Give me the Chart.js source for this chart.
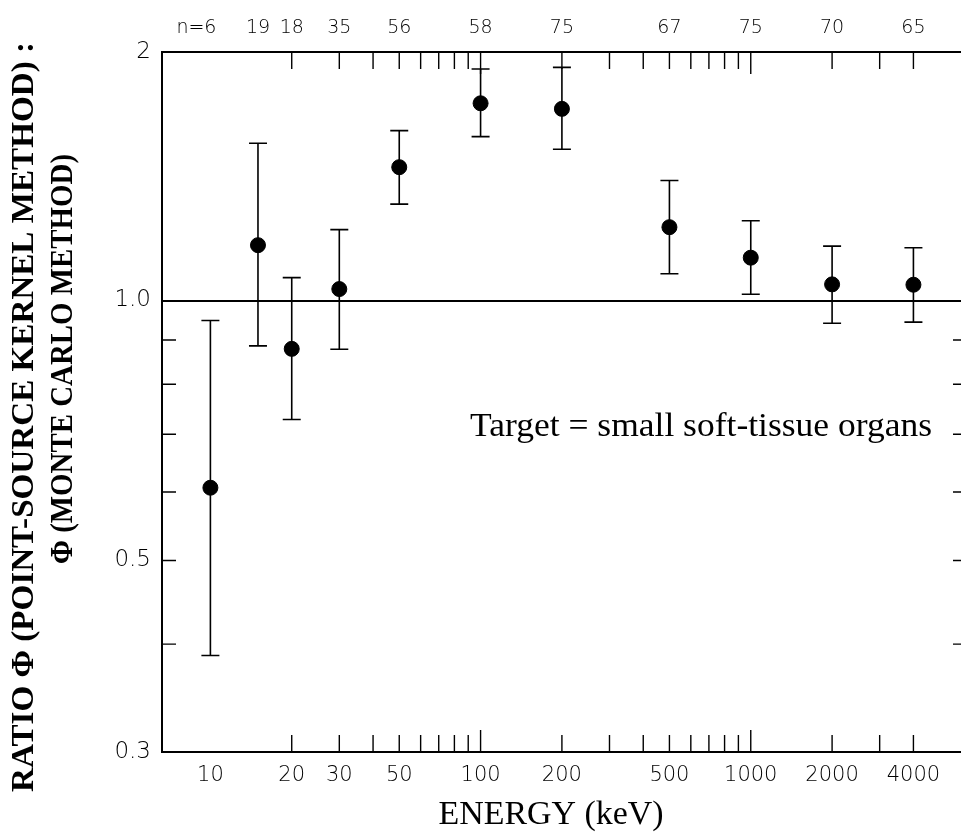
<!DOCTYPE html>
<html lang="en">
<head>
<meta charset="UTF-8">
<title>Ratio point-source kernel / Monte Carlo</title>
<style>
  html, body { margin: 0; padding: 0; background: #fff; }
  canvas { display: block; }
</style>
</head>
<body>
<canvas id="myChart" width="961" height="836"></canvas>
<script src="https://cdn.jsdelivr.net/npm/chart.js@4.4.1/dist/chart.umd.min.js"></script>
<script>
// data
const energies = [10, 15, 20, 30, 50, 100, 200, 500, 1000, 2000, 4000];
const ratios   = [0.607, 1.159, 0.879, 1.031, 1.427, 1.692, 1.667, 1.216, 1.121, 1.044, 1.043];
const errHigh  = [0.948, 1.521, 1.063, 1.208, 1.573, 1.854, 1.862, 1.377, 1.237, 1.156, 1.151];
const errLow   = [0.388, 0.886, 0.728, 0.878, 1.293, 1.548, 1.497, 1.074, 1.017, 0.941, 0.944];
const counts   = [6, 19, 18, 35, 56, 58, 75, 67, 75, 70, 65];

// axis ticks
const xTickLabels = [10, 20, 30, 50, 100, 200, 500, 1000, 2000, 4000];
const xMinorTicks = [20, 30, 40, 50, 60, 70, 80, 90, 100, 200, 300, 400, 500, 600, 700, 800, 900, 1000, 2000, 3000, 4000];
const yTickLabels = [0.3, 0.5, 1.0, 1.94];   // frame top is labelled "2"
const yMinorTicks = [0.4, 0.5, 0.6, 0.7, 0.8, 0.9];

const X_MIN = 6.62, X_MAX = 6000;
const Y_MIN = 0.3, Y_MAX = 1.94;

const SANS = 'DejaVu Sans';
const bottomFont = { family: SANS, size: 21, weight: '200' };
const topFont = { family: SANS, size: 19, weight: '200' };
const leftFont = { family: SANS, size: 23, weight: '200' };

// draws text stretched to a given length along the baseline
function fitText(ctx, txt, x, y, len, font, rot, base) {
  ctx.save();
  ctx.font = font;
  const w = ctx.measureText(txt).width;
  ctx.translate(x, y);
  ctx.rotate(rot || 0);
  ctx.scale(len / w, 1);
  ctx.textAlign = 'center';
  ctx.textBaseline = base || 'middle';
  ctx.fillStyle = '#000';
  ctx.fillText(txt, 0, 0);
  ctx.restore();
}

const extras = {
  id: 'extras',
  beforeDatasetsDraw(chart) {
    const { ctx, scales: { x, y } } = chart;
    ctx.save();
    ctx.strokeStyle = '#000';
    ctx.lineWidth = 1.6;
    energies.forEach((e, i) => {
      const px = x.getPixelForValue(e);
      const top = y.getPixelForValue(errHigh[i]);
      const bot = y.getPixelForValue(errLow[i]);
      ctx.beginPath();
      ctx.moveTo(px, top); ctx.lineTo(px, bot);
      ctx.moveTo(px - 9, top); ctx.lineTo(px + 9, top);
      ctx.moveTo(px - 9, bot); ctx.lineTo(px + 9, bot);
      ctx.stroke();
    });
    ctx.restore();
  },
  afterDraw(chart) {
    const { ctx, chartArea: a, scales: { x, y } } = chart;
    ctx.save();
    ctx.strokeStyle = '#000';
    ctx.lineWidth = 1.4;
    ctx.beginPath();
    xMinorTicks.forEach(v => {
      const px = x.getPixelForValue(v);
      const len = (v === 100 || v === 1000) ? 22 : 17;
      ctx.moveTo(px, a.bottom); ctx.lineTo(px, a.bottom - len);
      ctx.moveTo(px, a.top); ctx.lineTo(px, a.top + len);
    });
    yMinorTicks.forEach(v => {
      const py = y.getPixelForValue(v);
      ctx.moveTo(a.left, py); ctx.lineTo(a.left + 14, py);
      ctx.moveTo(a.right, py); ctx.lineTo(a.right - 8, py);
    });
    ctx.stroke();

    // "n=" prefix before the first count, on the same line as the top labels
    const x2 = chart.scales.x2;
    const item = x2.getLabelItems()[0];
    ctx.font = topFont.weight + ' ' + topFont.size + 'px "' + SANS + '"';
    ctx.fillStyle = '#000';
    ctx.textAlign = 'right';
    ctx.textBaseline = item.options.textBaseline;
    const w6 = ctx.measureText(String(counts[0])).width;
    ctx.fillText('n=', x2.getPixelForValue(energies[0]) - w6 / 2,
      item.options.translation[1] + (item.textOffset || 0));
    ctx.restore();

    // titles and annotation
    fitText(ctx, 'RATIO \u03A6 (POINT-SOURCE KERNEL METHOD) :', 25, 417, 750, 'bold 32px "Liberation Serif"', -Math.PI / 2);
    fitText(ctx, '\u03A6 (MONTE CARLO METHOD)', 64, 359, 410, 'bold 31px "Liberation Serif"', -Math.PI / 2);
    fitText(ctx, 'ENERGY (keV)', 551, 815, 225, '34px "Liberation Serif"', 0);
    fitText(ctx, 'Target = small soft-tissue organs', 701, 436, 462, '34px "Liberation Serif"', 0, 'alphabetic');
  }
};

const ctx = document.getElementById('myChart');

const chart = new Chart(ctx, {
  type: 'scatter',
  data: {
    datasets: [{
      data: energies.map((e, i) => ({ x: e, y: ratios[i] })),
      backgroundColor: '#000',
      borderColor: '#000',
      pointRadius: 7.5,
      pointHoverRadius: 7.5
    }]
  },
  options: {
    responsive: false,
    animation: false,
    layout: { padding: 0, autoPadding: false },
    plugins: {
      legend: { display: false },
      tooltip: { enabled: false }
    },
    scales: {
      x: {
        type: 'logarithmic',
        position: 'bottom',
        min: X_MIN, max: X_MAX,
        afterBuildTicks: axis => { axis.ticks = xTickLabels.map(v => ({ value: v })); },
        afterFit: axis => { axis.height = 84; },
        ticks: {
          callback: v => String(v),
          font: bottomFont, color: '#000',
          padding: 3, autoSkip: false, maxRotation: 0
        },
        grid: { display: false },
        border: { display: true, color: '#000', width: 2 }
      },
      x2: {
        type: 'logarithmic',
        position: 'top',
        min: X_MIN, max: X_MAX,
        afterBuildTicks: axis => { axis.ticks = energies.map(v => ({ value: v })); },
        afterFit: axis => { axis.height = 52; },
        ticks: {
          callback: v => String(counts[energies.indexOf(v)]),
          font: topFont, color: '#000',
          padding: 5, autoSkip: false, maxRotation: 0
        },
        grid: { display: false },
        border: { display: true, color: '#000', width: 2 }
      },
      y: {
        type: 'logarithmic',
        min: Y_MIN, max: Y_MAX,
        afterBuildTicks: axis => { axis.ticks = yTickLabels.map(v => ({ value: v })); },
        afterFit: axis => { axis.width = 162; },
        ticks: {
          callback: v => (v > 1.5 ? '2' : v.toFixed(1)),
          font: leftFont, color: '#000',
          padding: 11, autoSkip: false
        },
        grid: {
          drawTicks: false,
          color: c => (c.tick && c.tick.value === 1 ? '#000' : 'rgba(0,0,0,0)'),
          lineWidth: 2
        },
        border: { display: true, color: '#000', width: 2 }
      }
    }
  },
  plugins: [extras]
});
</script>
</body>
</html>
